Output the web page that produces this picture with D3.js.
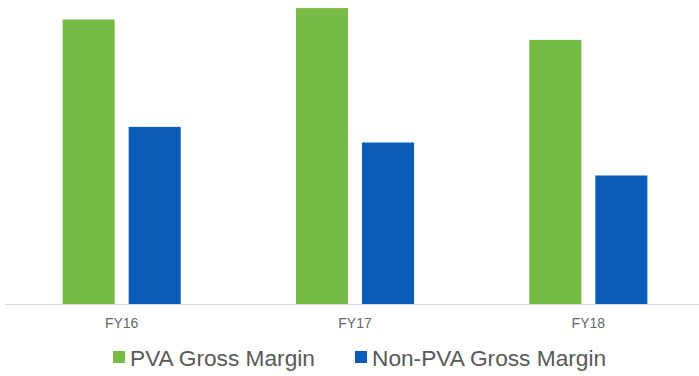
<!DOCTYPE html>
<html>
<head>
<meta charset="utf-8">
<script src="https://cdn.jsdelivr.net/npm/d3@7"></script>
<style>
  html, body { margin: 0; padding: 0; background: #fff; }
  svg { display: block; font-family: "Liberation Sans", Arial, sans-serif; }
</style>
</head>
<body>
<svg id="chart" width="699" height="376"></svg>
<script>
// Fiscal years shown on the x axis
const categories = ["FY16", "FY17", "FY18"];
// Series names (legend order)
const seriesNames = ["PVA Gross Margin", "Non-PVA Gross Margin"];
// Gross margin, % of sales
const pvaMargin = [47.5, 49.4, 44.1];
const nonPvaMargin = [29.6, 27.0, 21.5];

const colors = ["#76bb44", "#0b5cb8"];
const seriesValues = [pvaMargin, nonPvaMargin];

const svg = d3.select("#chart");
const W = 699;
const baseY = 304.5;

const x0 = d3.scaleBand().domain(categories).range([5, 705]).paddingInner(0.494).paddingOuter(0.247);
const x1 = d3.scaleBand().domain(seriesNames).range([0, x0.bandwidth()]).paddingInner(0.212);
const y = d3.scaleLinear().domain([0, 50]).range([baseY, 4.5]);

// Bars
const groups = svg.append("g").selectAll("g")
  .data(categories)
  .join("g")
  .attr("transform", d => `translate(${x0(d)},0)`);

groups.selectAll("rect")
  .data((d, i) => seriesNames.map((s, k) => ({ s, k, v: seriesValues[k][i] })))
  .join("rect")
  .attr("x", d => x1(d.s))
  .attr("width", x1.bandwidth())
  .attr("y", d => y(d.v))
  .attr("height", d => baseY - y(d.v))
  .attr("fill", d => colors[d.k]);

// Category axis
const xAxis = d3.axisBottom(x0).tickSize(0).tickPadding(0);
const ax = svg.append("g").attr("transform", `translate(0,${baseY})`).call(xAxis);
ax.select(".domain").remove();
ax.append("line").attr("x1", 5).attr("x2", W).attr("y1", 0).attr("y2", 0)
  .attr("stroke", "#d9d9d9").attr("stroke-width", 1);
ax.selectAll(".tick text")
  .attr("y", 23)
  .attr("dy", 0)
  .attr("fill", "#666")
  .attr("font-size", 14)
  .attr("font-family", "Liberation Sans, Arial, sans-serif");

// Legend
const legend = svg.append("g");
const legendItems = [
  { x: 113, name: seriesNames[0], color: colors[0] },
  { x: 355, name: seriesNames[1], color: colors[1] }
];
legendItems.forEach(it => {
  legend.append("rect").attr("x", it.x).attr("y", 351).attr("width", 12).attr("height", 12)
    .attr("fill", it.color);
  legend.append("text").attr("x", it.x + 17).attr("y", 365.5)
    .attr("font-size", 22.7).attr("fill", "#595959").text(it.name);
});
</script>
</body>
</html>
